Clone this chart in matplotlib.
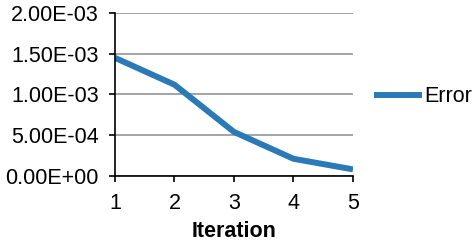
import matplotlib.pyplot as plt
from matplotlib.ticker import FuncFormatter

plt.rcParams['font.family'] = ['Liberation Sans', 'DejaVu Sans']

# data
iterations = [1, 2, 3, 4, 5]
error = [1.45e-3, 1.12e-3, 0.54e-3, 0.21e-3, 0.08e-3]
y_ticks = [0, 0.5e-3, 1.0e-3, 1.5e-3, 2.0e-3]

fig = plt.figure(figsize=(4.77, 2.46), dpi=100)
ax = fig.add_axes([0.241, 0.285, 0.499, 0.662])

ax.plot(iterations, error, color='#2a7ab8', lw=4.3, label='Error', solid_capstyle='butt')

ax.set_xlim(1, 5)
ax.set_ylim(0, 2.0e-3)
ax.set_xticks(iterations)
ax.set_yticks(y_ticks)
ax.yaxis.set_major_formatter(FuncFormatter(lambda v, p: '{:.2E}'.format(v)))
ax.grid(axis='y', color='#8c8c8c', lw=1.1)
ax.set_axisbelow(True)

for s in ['top', 'right']:
    ax.spines[s].set_visible(False)
for s in ['left', 'bottom']:
    ax.spines[s].set_color('black')
    ax.spines[s].set_linewidth(1.2)

ax.tick_params(axis='both', direction='out', length=4.5, width=1.2, labelsize=15.5, colors='black')
ax.tick_params(axis='y', pad=7)
ax.tick_params(axis='x', pad=8)

ax.set_xlabel('Iteration', fontsize=15.5, fontweight='bold', labelpad=5)

ax.legend(loc='center left', bbox_to_anchor=(1.09, 0.485), frameon=False,
          fontsize=15.5, handlelength=2.2, handletextpad=0.12, borderpad=0, borderaxespad=0)

fig.savefig('out.png', dpi=100)
